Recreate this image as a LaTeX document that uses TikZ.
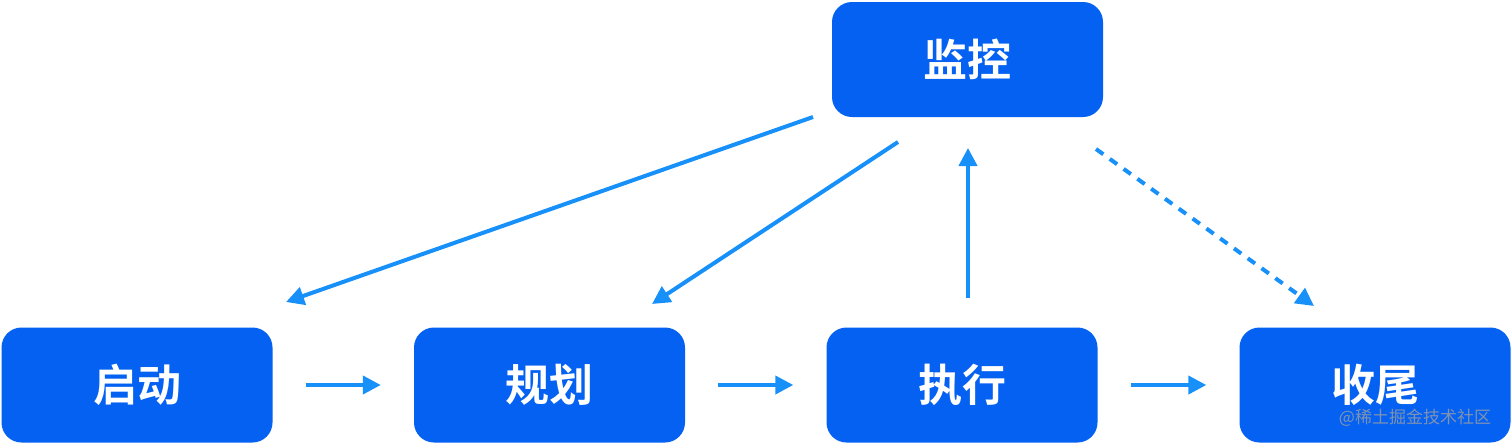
\documentclass[tikz,border=0pt]{standalone}
\usepackage{fontspec}
\newfontfamily\cjk{Noto Sans CJK SC}
\newfontfamily\cjkb{Noto Sans CJK SC Bold}
\usetikzlibrary{arrows.meta}
\definecolor{boxblue}{HTML}{0461F2}
\definecolor{arrblue}{HTML}{1890FA}
\tikzset{
  stagebox/.style={draw=none, fill=boxblue, rounded corners=20pt, minimum width=271pt, minimum height=115pt, inner sep=0pt, text=white, font=\cjkb\fontsize{44}{48}\selectfont},
  arr/.style={draw=arrblue, line width=4pt, -{Triangle[length=18pt,width=18pt]}},
  darr/.style={arr, dash pattern=on 9pt off 8pt},
}
\begin{document}
\begin{tikzpicture}[x=1pt,y=-1pt]
\useasboundingbox (0,0) rectangle (1512,445);
\node[stagebox] (jiankong) at (967.5,59.5) {监控};
\node[stagebox] (qidong) at (137,385) {启动};
\node[stagebox] (guihua) at (549.5,385) {规划};
\node[stagebox] (zhixing) at (962,385) {执行};
\node[stagebox] (shouwei) at (1375,385) {收尾};
\draw[arr, shorten <=33pt, shorten >=33pt] (qidong.east) -- (guihua.west);
\draw[arr, shorten <=33pt, shorten >=33pt] (guihua.east) -- (zhixing.west);
\draw[arr, shorten <=33pt, shorten >=33pt] (zhixing.east) -- (shouwei.west);
\coordinate (z1) at (968,298);
\coordinate (z2) at (968,148);
\coordinate (a1) at (813,117);
\coordinate (a2) at (286,302);
\coordinate (b1) at (898,142);
\coordinate (b2) at (652,304);
\coordinate (c1) at (1096,149);
\coordinate (c2) at (1314,306);
\draw[arr] (z1) -- (z2);
\draw[arr] (a1) -- (a2);
\draw[arr] (b1) -- (b2);
\draw[darr] (c1) -- (c2);
\node[text=gray!75, opacity=0.8, font=\cjk\fontsize{17}{20}\selectfont, inner sep=0pt] (wm) at (1415,418) {@稀土掘金技术社区};
\end{tikzpicture}
\end{document}
